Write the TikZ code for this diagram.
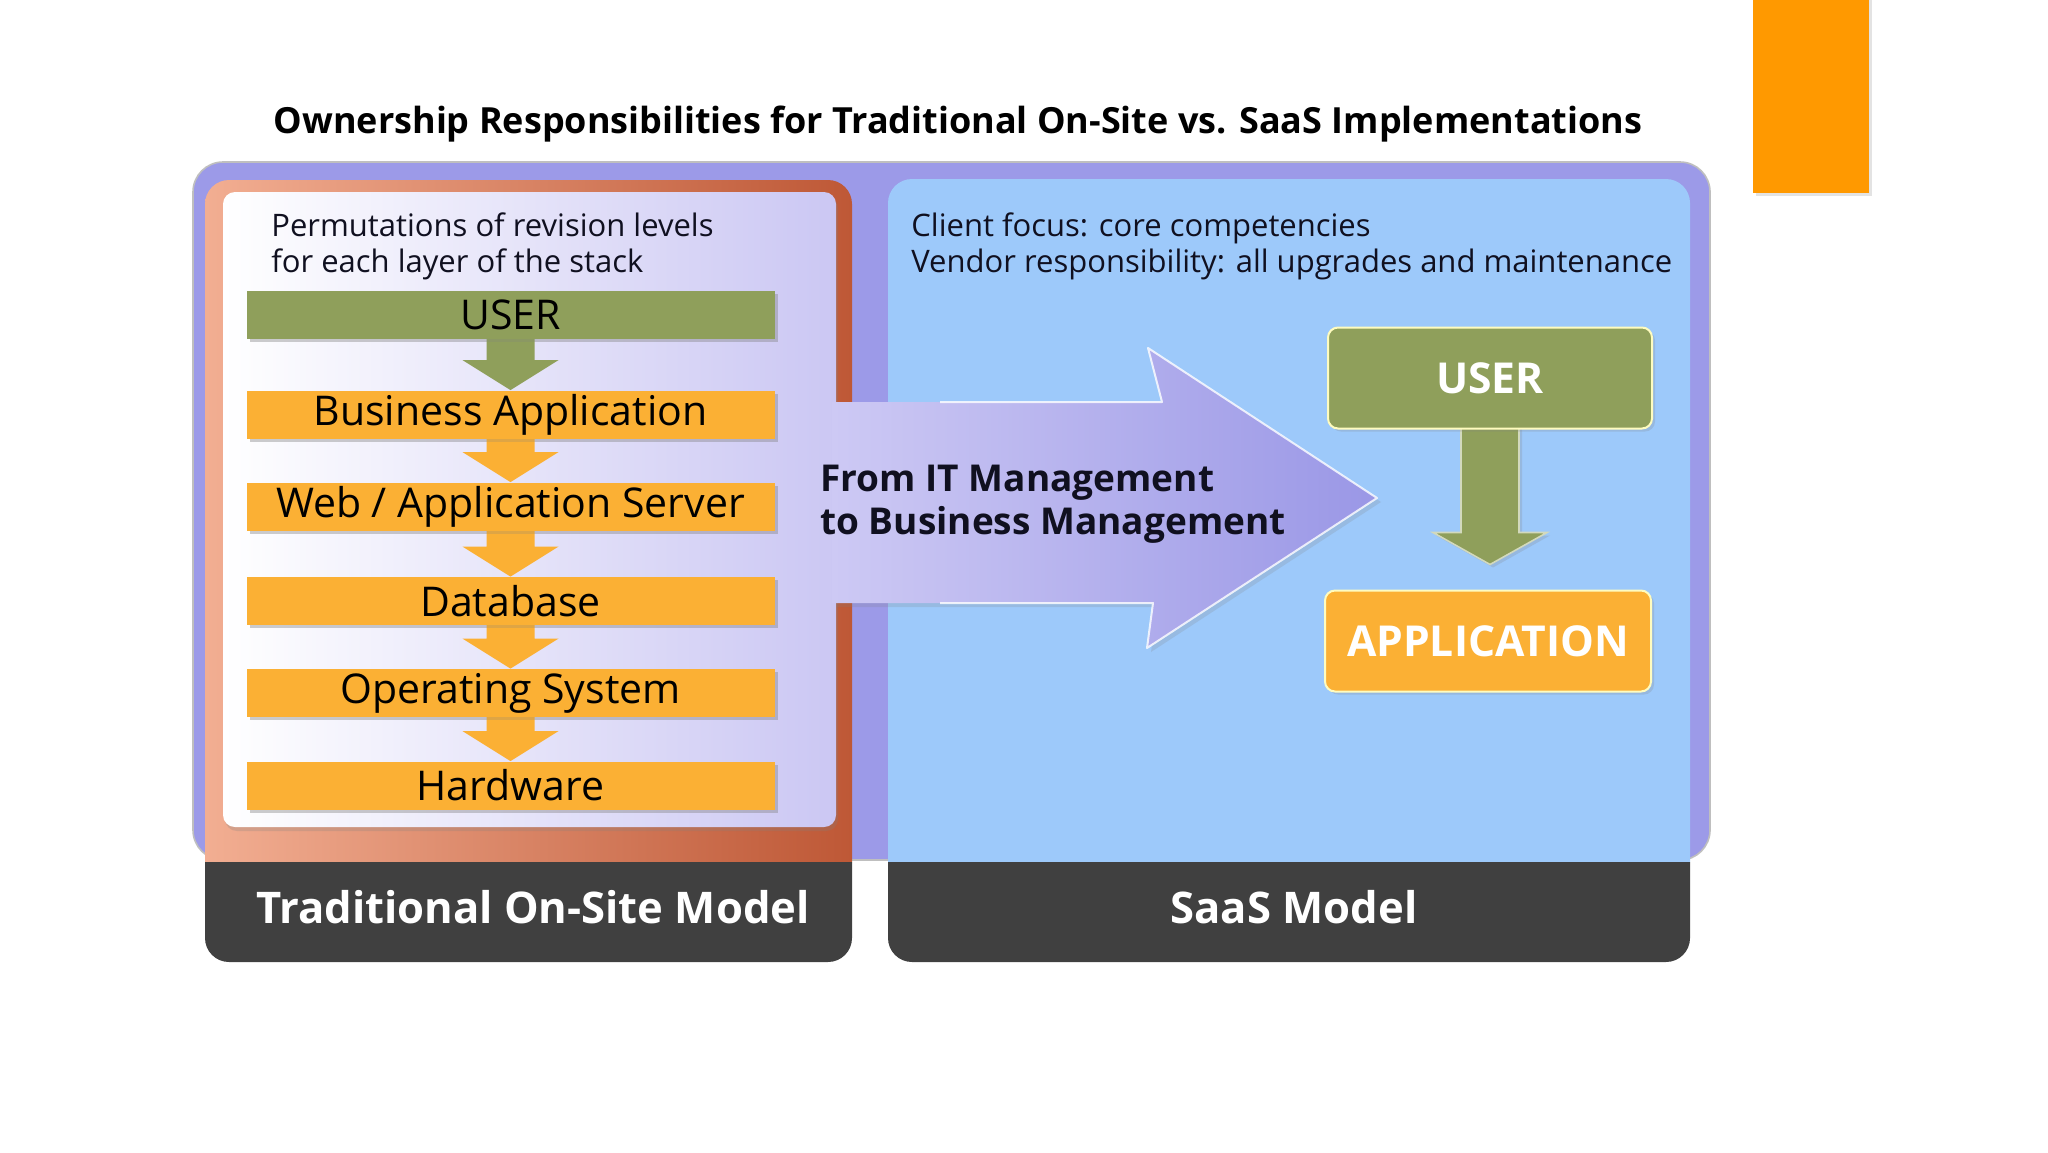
\documentclass[tikz,border=0pt]{standalone}
\usepackage{fontspec}
\setmainfont{Open Sans}
\usetikzlibrary{calc,shadows}
\definecolor{topOrange}{HTML}{FF9900}
\definecolor{outerPurple}{HTML}{9C9AE8}
\definecolor{lightBlue}{HTML}{9DC9FA}
\definecolor{darkBar}{HTML}{404040}
\definecolor{frameLight}{HTML}{F2AE92}
\definecolor{frameDark}{HTML}{BE5836}
\definecolor{lavender}{HTML}{CBC7F3}
\definecolor{arrowLeft}{HTML}{CDC9F4}
\definecolor{arrowRight}{HTML}{9A97E6}
\definecolor{oliveGreen}{HTML}{8F9F5B}
\definecolor{barOrange}{HTML}{FBB034}
\definecolor{textDark}{HTML}{101020}
\newcommand\blockarr[6]{%
  \path[#6] ($(#1.south)+(-#3,-3)$) -- ($(#2)+(-#3,-#5)$) -- ($(#2)+(-#4,-#5)$) -- (#2)
    -- ($(#2)+(#4,-#5)$) -- ($(#2)+(#3,-#5)$) -- ($(#1.south)+(#3,-3)$) -- cycle;}
\tikzset{
  softshadow/.style={drop shadow={opacity=0.22,shadow xshift=1.5pt,shadow yshift=-1.5pt}},
  stackbar/.style={minimum width=264pt,minimum height=24pt,inner sep=0pt,softshadow,
    font=\fontsize{20.5}{23}\selectfont, text=black},
  bigbox/.style={minimum height=50.5pt,inner sep=0pt,rounded corners=5pt,
    draw=white!75!yellow,line width=1pt,softshadow,text=white,font=\bfseries\fontsize{21.3}{24}\selectfont},
  placeholder/.style={minimum height=50.5pt,inner sep=0pt},
  plaintext/.style={align=left,inner sep=0pt,text=textDark,font=\fontsize{15.5}{18}\selectfont},
  bartext/.style={text=white,font=\bfseries\fontsize{21.8}{24}\selectfont,inner sep=0pt}
}
\begin{document}
\begin{tikzpicture}[x=0.5pt,y=-0.5pt]
\useasboundingbox[fill=white] (0,0) rectangle (2048,1152);
% top right orange block
\fill[topOrange,softshadow] (1753,-10) rectangle (1869,193);
% title
\node[inner sep=0pt,font=\bfseries\fontsize{18}{21}\selectfont,text=black] (title) at (958,124)
  {Ownership Responsibilities for Traditional On-Site vs. SaaS Implementations};
% outer purple panel
\fill[outerPurple,rounded corners=15pt] (193,162) rectangle (1710,860);
\draw[black!25,line width=0.8pt,rounded corners=15pt] (193,162) rectangle (1710,860);
% left frame
\shade[left color=frameLight,right color=frameDark]
  (205,862) [rounded corners=12pt] -- (205,180) -- (852,180) [sharp corners] -- (852,862) -- cycle;
% right light blue panel
\fill[lightBlue] (888,862) [rounded corners=12pt] -- (888,179) -- (1690,179) [sharp corners] -- (1690,862) -- cycle;
% dark label bars
\fill[darkBar] (205,862) [rounded corners=12pt] -- (205,962) -- (852,962) [sharp corners] -- (852,862) -- cycle;
\fill[darkBar] (888,862) [rounded corners=12pt] -- (888,962) -- (1690,962) [sharp corners] -- (1690,862) -- cycle;
\node[bartext] (lbl1) at (533,907) {Traditional On-Site Model};
\node[bartext] (lbl2) at (1294,907) {SaaS Model};
% inner white box
\shade[left color=white,right color=lavender,rounded corners=6pt,
  drop shadow={opacity=0.25,shadow xshift=1pt,shadow yshift=-2pt}] (223,192) rectangle (836,827);
% big arrow
\coordinate (a1) at (832,402);
\coordinate (a2) at (1162,402);
\coordinate (a3) at (1148,348);
\coordinate (a4) at (1377,498);
\coordinate (a5) at (1147,648);
\coordinate (a6) at (1153,603);
\coordinate (a7) at (832,603);
\shade[left color=arrowLeft,right color=arrowRight,drop shadow={opacity=0.2,shadow xshift=2pt,shadow yshift=-2pt}]
  (a1) -- (a2) -- (a3) -- (a4) -- (a5) -- (a6) -- (a7) -- cycle;
\draw[white,opacity=0.8,line width=1pt,line join=round] (940,402) -- (a2) -- (a3) -- (a4) -- (a5) -- (a6) -- (940,603);
\node[anchor=west,align=left,inner sep=0pt,text=textDark,font=\bfseries\fontsize{18.5}{21.5}\selectfont]
  (mgmt) at (820,504) {From IT Management\\to Business Management};
% texts
\node[plaintext,anchor=north west] (perm) at (271,212) {Permutations of revision levels\\for each layer of the stack};
\node[plaintext,anchor=north west] (client) at (911,212) {Client focus: core competencies\\Vendor responsibility: all upgrades and maintenance};
% stack
\node[stackbar] (suser) at (510.5,315) {};
\node[stackbar] (sba) at (510.5,414.5) {};
\node[stackbar] (swas) at (510.5,506.5) {};
\node[stackbar] (sdb) at (510.5,601) {};
\node[stackbar] (sos) at (510.5,693) {};
\node[stackbar] (shw) at (510.5,785.5) {};
\blockarr{suser}{sba.north}{24}{48}{30}{fill=oliveGreen}
\blockarr{sba}{swas.north}{24}{48}{30}{fill=barOrange}
\blockarr{swas}{sdb.north}{24}{48}{30}{fill=barOrange}
\blockarr{sdb}{sos.north}{24}{48}{30}{fill=barOrange}
\blockarr{sos}{shw.north}{24}{48}{30}{fill=barOrange}
\node[stackbar,fill=oliveGreen] at (suser) {USER};
\node[stackbar,fill=barOrange] at (sba) {Business Application};
\node[stackbar,fill=barOrange] at (swas) {Web / Application Server};
\node[stackbar,fill=barOrange] at (sdb) {Database};
\node[stackbar,fill=barOrange] at (sos) {Operating System};
\node[stackbar,fill=barOrange] at (shw) {Hardware};
% right side
\node[placeholder,minimum width=162pt] (ruser) at (1490,378) {};
\node[bigbox,fill=barOrange,minimum width=163pt] (rapp) at (1488,641) {APPLICATION};
\coordinate (rtip) at ($(rapp.north)+(2,-25)$);
\blockarr{ruser}{rtip}{29}{57}{32}{fill=oliveGreen,draw=white!60!oliveGreen,line width=0.8pt,softshadow}
\node[bigbox,fill=oliveGreen,minimum width=162pt] at (ruser) {USER};
\end{tikzpicture}
\end{document}
